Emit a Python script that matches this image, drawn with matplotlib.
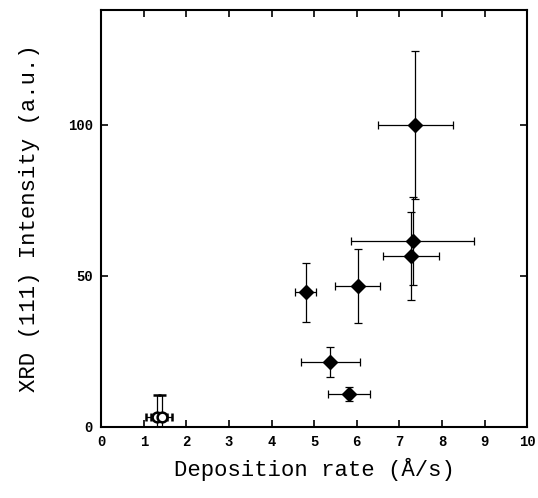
import matplotlib
matplotlib.use("Agg")
import matplotlib.pyplot as plt

# filled points: deposition rate vs XRD (111) intensity
rate = [7.37, 7.31, 7.28, 6.02, 4.80, 5.38, 5.81]
rate_err = [0.88, 1.45, 0.66, 0.52, 0.25, 0.70, 0.49]
intensity = [100.0, 61.6, 56.6, 46.7, 44.5, 21.4, 10.8]
intensity_err = [24.5, 14.5, 14.6, 12.2, 9.8, 4.9, 2.4]

# open points near 1.3 A/s
rate_open = [1.30, 1.42]
rate_open_err = [0.25, 0.25]
intensity_open = [3.2, 3.2]
intensity_open_err = [7.4, 7.4]

fig = plt.figure(figsize=(5.38, 4.98), dpi=100)
ax = fig.add_axes([0.188, 0.143, 0.792, 0.837])

ax.errorbar(rate, intensity, xerr=rate_err, yerr=intensity_err,
            fmt='D', color='black', markersize=7.5, elinewidth=0.9,
            capsize=3, capthick=0.9)
ax.errorbar(rate_open, intensity_open, xerr=rate_open_err, yerr=intensity_open_err,
            fmt='o', color='black', mfc='white', mec='black', mew=1.8,
            markersize=7, elinewidth=0.9, capsize=3, capthick=0.9)

ax.set_xlim(0, 10)
ax.set_ylim(0, 138)
ax.set_xticks(range(0, 11))
ax.set_yticks([0, 50, 100])
ax.tick_params(direction='in', top=True, right=True, length=5, width=1.2,
               labelsize=10, pad=6)
for lab in ax.get_xticklabels() + ax.get_yticklabels():
    lab.set_fontweight('bold')
    lab.set_family('Liberation Mono')
for s in ax.spines.values():
    s.set_linewidth(1.5)

ax.set_xlabel('Deposition rate (Å/s)', family='Liberation Mono', fontsize=16,
              labelpad=6)
ax.set_ylabel('XRD (111) Intensity (a.u.)', family='Liberation Mono', fontsize=16,
              labelpad=20)

fig.savefig('out.png', dpi=100, facecolor='white')
